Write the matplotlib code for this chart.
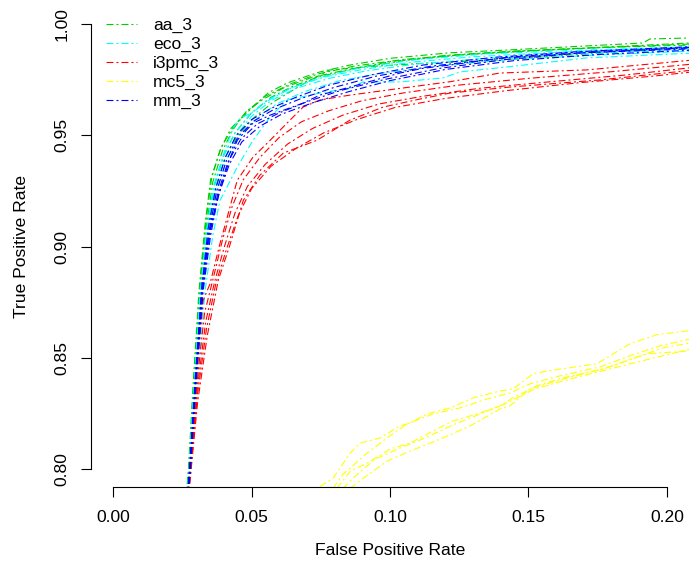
import matplotlib
matplotlib.use("Agg")
import matplotlib.pyplot as plt

plt.rcParams["font.family"] = ["Liberation Sans", "DejaVu Sans"]
plt.rcParams["lines.scale_dashes"] = False

# ROC per fold (5 fold per model)
aa_fpr = [
    [0.0258, 0.0272, 0.0290, 0.0310, 0.0332, 0.0352, 0.0386, 0.0425, 0.0505, 0.0560, 0.0628, 0.0700, 0.0747, 0.0856, 0.1000, 0.1217, 0.1433, 0.1700, 0.1913, 0.1939, 0.2100],
    [0.0262, 0.0276, 0.0295, 0.0318, 0.0340, 0.0365, 0.0400, 0.0440, 0.0500, 0.0570, 0.0650, 0.0750, 0.0880, 0.1050, 0.1250, 0.1500, 0.1800, 0.2100],
    [0.0260, 0.0274, 0.0293, 0.0314, 0.0338, 0.0360, 0.0395, 0.0430, 0.0480, 0.0540, 0.0620, 0.0720, 0.0850, 0.1000, 0.1200, 0.1450, 0.1750, 0.2100],
    [0.0263, 0.0278, 0.0298, 0.0320, 0.0345, 0.0370, 0.0405, 0.0450, 0.0510, 0.0580, 0.0680, 0.0783, 0.0950, 0.1150, 0.1397, 0.1650, 0.1900, 0.2100],
    [0.0259, 0.0273, 0.0291, 0.0312, 0.0335, 0.0356, 0.0390, 0.0435, 0.0490, 0.0550, 0.0640, 0.0740, 0.0870, 0.1050, 0.1300, 0.1600, 0.1850, 0.2100],
]
aa_tpr = [
    [0.780, 0.800, 0.840, 0.880, 0.910, 0.930, 0.9432, 0.9530, 0.9626, 0.9690, 0.9734, 0.9765, 0.9784, 0.9815, 0.9845, 0.9870, 0.9883, 0.9900, 0.9914, 0.9932, 0.9937],
    [0.780, 0.800, 0.840, 0.880, 0.908, 0.927, 0.941, 0.951, 0.960, 0.967, 0.972, 0.9765, 0.980, 0.9835, 0.986, 0.9878, 0.9895, 0.9910],
    [0.780, 0.800, 0.840, 0.880, 0.910, 0.929, 0.943, 0.952, 0.9605, 0.966, 0.9715, 0.976, 0.9795, 0.983, 0.9858, 0.9878, 0.9893, 0.9905],
    [0.780, 0.800, 0.840, 0.880, 0.907, 0.926, 0.940, 0.950, 0.958, 0.965, 0.9725, 0.9793, 0.9810, 0.9825, 0.9838, 0.986, 0.988, 0.9896],
    [0.780, 0.800, 0.840, 0.880, 0.911, 0.931, 0.9445, 0.954, 0.9615, 0.9675, 0.973, 0.9775, 0.981, 0.984, 0.9865, 0.9885, 0.990, 0.9915],
]

eco_fpr = [
    [0.0261, 0.0275, 0.0294, 0.0315, 0.0338, 0.0362, 0.0400, 0.0435, 0.0458, 0.0500, 0.0560, 0.0640, 0.0750, 0.0900, 0.1100, 0.1350, 0.1650, 0.1900, 0.2100],
    [0.0265, 0.0282, 0.0305, 0.0332, 0.0360, 0.0386, 0.0448, 0.0505, 0.0567, 0.0628, 0.0747, 0.0856, 0.0903, 0.1036, 0.1191, 0.1253, 0.1450, 0.1711, 0.2100],
    [0.0261, 0.0276, 0.0295, 0.0317, 0.0342, 0.0368, 0.0405, 0.0445, 0.0500, 0.0570, 0.0660, 0.0780, 0.0920, 0.1100, 0.1350, 0.1650, 0.2100],
    [0.0262, 0.0277, 0.0297, 0.0320, 0.0346, 0.0372, 0.0410, 0.0455, 0.0515, 0.0590, 0.0690, 0.0820, 0.0980, 0.1200, 0.1450, 0.1750, 0.2100],
    [0.0260, 0.0275, 0.0294, 0.0316, 0.0340, 0.0364, 0.0400, 0.0440, 0.0495, 0.0560, 0.0650, 0.0760, 0.0900, 0.1080, 0.1300, 0.1600, 0.1900, 0.2100],
]
eco_tpr = [
    [0.780, 0.800, 0.840, 0.880, 0.908, 0.927, 0.942, 0.9535, 0.9575, 0.9600, 0.9655, 0.971, 0.976, 0.9805, 0.984, 0.9865, 0.9880, 0.9890, 0.9895],
    [0.780, 0.800, 0.840, 0.880, 0.905, 0.9207, 0.9356, 0.9477, 0.9581, 0.9658, 0.9689, 0.9712, 0.9739, 0.9739, 0.9757, 0.9784, 0.9810, 0.9847, 0.9869],
    [0.780, 0.800, 0.840, 0.880, 0.907, 0.926, 0.940, 0.950, 0.9585, 0.9655, 0.971, 0.9755, 0.979, 0.982, 0.9845, 0.9865, 0.9885],
    [0.780, 0.800, 0.840, 0.880, 0.906, 0.924, 0.939, 0.949, 0.957, 0.964, 0.9695, 0.9745, 0.978, 0.9815, 0.984, 0.9860, 0.9878],
    [0.780, 0.800, 0.840, 0.880, 0.908, 0.927, 0.941, 0.951, 0.9595, 0.966, 0.9715, 0.976, 0.9795, 0.9828, 0.9852, 0.9872, 0.9888, 0.9898],
]

i3pmc_fpr = [
    [0.0265, 0.0271, 0.0300, 0.0325, 0.0350, 0.0386, 0.0412, 0.0448, 0.0505, 0.0567, 0.0628, 0.0686, 0.0747, 0.0856, 0.1036, 0.1217, 0.1397, 0.1711, 0.2100],
    [0.0266, 0.0273, 0.0302, 0.0330, 0.0360, 0.0395, 0.0430, 0.0470, 0.0530, 0.0600, 0.0680, 0.0780, 0.0900, 0.1050, 0.1250, 0.1500, 0.1800, 0.2100],
    [0.0267, 0.0274, 0.0303, 0.0334, 0.0366, 0.0402, 0.0440, 0.0485, 0.0550, 0.0630, 0.0720, 0.0830, 0.0960, 0.1120, 0.1320, 0.1580, 0.1850, 0.2100],
    [0.0267, 0.0274, 0.0304, 0.0337, 0.0372, 0.0410, 0.0452, 0.0500, 0.0570, 0.0660, 0.0760, 0.0880, 0.1020, 0.1200, 0.1420, 0.1680, 0.1950, 0.2100],
    [0.0268, 0.0275, 0.0305, 0.0340, 0.0380, 0.0420, 0.0470, 0.0530, 0.0614, 0.0736, 0.0856, 0.0975, 0.1100, 0.1217, 0.1433, 0.1758, 0.2100],
]
i3pmc_tpr = [
    [0.780, 0.7914, 0.840, 0.8757, 0.8833, 0.9014, 0.9131, 0.9297, 0.9401, 0.9477, 0.9554, 0.9626, 0.9658, 0.9680, 0.9710, 0.9740, 0.9779, 0.9793, 0.9838],
    [0.780, 0.7914, 0.838, 0.870, 0.885, 0.903, 0.918, 0.930, 0.940, 0.949, 0.956, 0.961, 0.9655, 0.969, 0.9725, 0.9755, 0.9785, 0.9820],
    [0.780, 0.7914, 0.835, 0.866, 0.884, 0.900, 0.915, 0.927, 0.937, 0.946, 0.953, 0.959, 0.964, 0.9675, 0.971, 0.974, 0.977, 0.9805],
    [0.780, 0.7914, 0.833, 0.863, 0.884, 0.899, 0.914, 0.926, 0.936, 0.944, 0.951, 0.957, 0.9625, 0.9665, 0.970, 0.9735, 0.9765, 0.9785],
    [0.780, 0.7914, 0.830, 0.860, 0.885, 0.900, 0.9207, 0.932, 0.9419, 0.9477, 0.9568, 0.9626, 0.966, 0.9689, 0.9716, 0.9748, 0.9793],
]

mc5_fpr = [
    [0.0700, 0.0736, 0.0794, 0.0856, 0.0892, 0.0964, 0.1036, 0.1072, 0.1134, 0.1217, 0.1300, 0.1397, 0.1444, 0.1516, 0.1567, 0.1747, 0.1866, 0.1964, 0.2100],
    [0.0794, 0.0830, 0.0917, 0.0989, 0.1061, 0.1155, 0.1253, 0.1350, 0.1433, 0.1505, 0.1614, 0.1758, 0.1866, 0.1975, 0.2090],
    [0.0809, 0.0856, 0.0917, 0.1000, 0.1072, 0.1155, 0.1227, 0.1314, 0.1397, 0.1444, 0.1531, 0.1625, 0.1769, 0.1928, 0.2090],
    [0.0856, 0.0903, 0.0989, 0.1072, 0.1181, 0.1289, 0.1397, 0.1433, 0.1505, 0.1625, 0.1783, 0.1986, 0.2090],
    [0.0830, 0.0874, 0.0946, 0.1036, 0.1126, 0.1235, 0.1325, 0.1415, 0.1523, 0.1650, 0.1794, 0.1939, 0.2090],
]
mc5_tpr = [
    [0.7890, 0.7914, 0.7959, 0.8072, 0.8117, 0.8140, 0.8194, 0.8207, 0.8248, 0.8275, 0.8320, 0.8351, 0.8360, 0.8428, 0.8441, 0.8473, 0.8563, 0.8604, 0.8625],
    [0.7914, 0.7977, 0.8072, 0.8140, 0.8203, 0.8248, 0.8275, 0.8315, 0.8342, 0.8383, 0.8419, 0.8459, 0.8509, 0.8554, 0.8586],
    [0.7914, 0.7991, 0.8027, 0.8090, 0.8117, 0.8171, 0.8216, 0.8248, 0.8284, 0.8320, 0.8374, 0.8410, 0.8450, 0.8518, 0.8532],
    [0.7914, 0.7959, 0.8036, 0.8081, 0.8135, 0.8194, 0.8270, 0.8284, 0.8360, 0.8405, 0.8455, 0.8545, 0.8568],
    [0.7914, 0.7968, 0.8045, 0.8095, 0.8140, 0.8203, 0.8248, 0.8293, 0.8360, 0.8405, 0.8450, 0.8495, 0.8541],
]

mm_fpr = [
    [0.0262, 0.0277, 0.0297, 0.0321, 0.0345, 0.0361, 0.0386, 0.0420, 0.0448, 0.0505, 0.0567, 0.0686, 0.0747, 0.0856, 0.1036, 0.1119, 0.1217, 0.1433, 0.1700, 0.2100],
    [0.0263, 0.0278, 0.0299, 0.0323, 0.0350, 0.0378, 0.0415, 0.0460, 0.0520, 0.0600, 0.0700, 0.0820, 0.0980, 0.1180, 0.1420, 0.1700, 0.2100],
    [0.0262, 0.0277, 0.0298, 0.0322, 0.0347, 0.0374, 0.0410, 0.0452, 0.0510, 0.0580, 0.0680, 0.0800, 0.0950, 0.1150, 0.1400, 0.1700, 0.2100],
    [0.0263, 0.0279, 0.0300, 0.0325, 0.0352, 0.0380, 0.0420, 0.0465, 0.0530, 0.0610, 0.0720, 0.0850, 0.1000, 0.1200, 0.1450, 0.1750, 0.2100],
    [0.0261, 0.0276, 0.0296, 0.0319, 0.0343, 0.0370, 0.0405, 0.0445, 0.0500, 0.0570, 0.0660, 0.0780, 0.0930, 0.1120, 0.1380, 0.1680, 0.2100],
]
mm_tpr = [
    [0.780, 0.800, 0.840, 0.8833, 0.905, 0.913, 0.9252, 0.939, 0.9477, 0.9554, 0.959, 0.9644, 0.968, 0.9716, 0.9779, 0.9800, 0.9815, 0.9851, 0.9875, 0.9892],
    [0.780, 0.800, 0.840, 0.880, 0.906, 0.924, 0.938, 0.948, 0.955, 0.960, 0.965, 0.970, 0.975, 0.980, 0.984, 0.987, 0.9895],
    [0.780, 0.800, 0.840, 0.880, 0.907, 0.925, 0.939, 0.9495, 0.9565, 0.9615, 0.9665, 0.9715, 0.9765, 0.981, 0.9845, 0.9870, 0.9888],
    [0.780, 0.800, 0.840, 0.880, 0.905, 0.923, 0.937, 0.947, 0.954, 0.9595, 0.9645, 0.9695, 0.9745, 0.9795, 0.9835, 0.9862, 0.9882],
    [0.780, 0.800, 0.840, 0.880, 0.908, 0.926, 0.940, 0.950, 0.957, 0.962, 0.967, 0.9725, 0.977, 0.9815, 0.985, 0.9875, 0.9898],
]

model_names = ["aa_3", "eco_3", "i3pmc_3", "mc5_3", "mm_3"]
model_colors = ["#00CD00", "#00FFFF", "#FF0000", "#FFFF00", "#0000FF"]
fpr_all = [aa_fpr, eco_fpr, i3pmc_fpr, mc5_fpr, mm_fpr]
tpr_all = [aa_tpr, eco_tpr, i3pmc_tpr, mc5_tpr, mm_tpr]

x_ticks = [0.00, 0.05, 0.10, 0.15, 0.20]
y_ticks = [0.80, 0.85, 0.90, 0.95, 1.00]

dotdash = (0, (5, 2.2, 1.4, 2.2))
fs = 12.6

fig = plt.figure(figsize=(6.92, 5.72), dpi=100)
ax = fig.add_axes([91 / 692, 85 / 572, 598 / 692, 481 / 572])

for name, col, fprs, tprs in zip(model_names, model_colors, fpr_all, tpr_all):
    for i, (f, t) in enumerate(zip(fprs, tprs)):
        ax.plot(f, t, color=col, lw=0.8, linestyle=dotdash,
                label=name if i == 0 else None)

ax.set_xlim(-0.008, 0.208)
ax.set_ylim(0.792, 1.008)

# gaya sumbu ala R base graphics
ax.spines["top"].set_visible(False)
ax.spines["right"].set_visible(False)
ax.spines["bottom"].set_bounds(x_ticks[0], x_ticks[-1])
ax.spines["left"].set_bounds(y_ticks[0], y_ticks[-1])
ax.set_xticks(x_ticks)
ax.set_yticks(y_ticks)
ax.set_xticklabels([f"{v:.2f}" for v in x_ticks])
ax.set_yticklabels([f"{v:.2f}" for v in y_ticks], rotation=90, va="center")
ax.tick_params(axis="both", direction="out", length=7.5, width=0.8, labelsize=fs)
ax.tick_params(axis="x", pad=9)
ax.tick_params(axis="y", pad=8)

ax.set_xlabel("False Positive Rate", fontsize=fs, labelpad=13)
ax.set_ylabel("True Positive Rate", fontsize=fs, labelpad=18)

ax.legend(loc="upper left", bbox_to_anchor=(106 / 692, 1 - 18 / 572),
          bbox_transform=fig.transFigure, frameon=False, fontsize=fs,
          handlelength=1.77, handletextpad=0.91, labelspacing=0.2,
          borderpad=0, borderaxespad=0)

plt.savefig("out.png", dpi=100)
plt.close(fig)
